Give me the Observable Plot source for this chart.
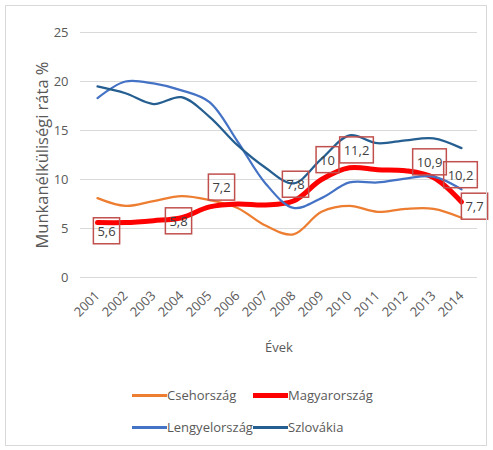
<!DOCTYPE html>
<html><head><meta charset="utf-8">
<script src="https://cdn.jsdelivr.net/npm/d3@7"></script>
<script src="https://cdn.jsdelivr.net/npm/@observablehq/plot@0.6"></script>
<style>
body{margin:0;background:#fff;font-family:"Open Sans",sans-serif;}
#wrap{position:relative;width:493px;height:450px;overflow:hidden;background:#fff}
#frame{position:absolute;left:5px;top:5px;width:482px;height:441px;border:1px solid #d9d9d9;box-sizing:border-box;pointer-events:none}
#legend{position:absolute;left:132px;top:383px;display:grid;grid-template-columns:121px auto;row-gap:8px;font-size:13px;color:#595959}
.item{display:flex;align-items:center;height:24px;white-space:nowrap}
.sw{width:35px;height:3px}
</style></head><body><div id="wrap"><div id="chart"></div><div id="legend"></div><div id="frame"></div></div>
<script>
const years = [2001,2002,2003,2004,2005,2006,2007,2008,2009,2010,2011,2012,2013,2014];
const series = ["Csehország","Magyarország","Lengyelország","Szlovákia"];
const cseh    = [8.1,7.3,7.8,8.3,7.9,7.1,5.3,4.4,6.7,7.3,6.7,7.0,7.0,6.1];
const magyar  = [5.6,5.6,5.8,6.1,7.2,7.5,7.4,7.8,10.0,11.2,11.0,10.9,10.2,7.7];
const lengyel = [18.3,20.0,19.8,19.1,17.9,13.9,9.6,7.1,8.1,9.7,9.7,10.1,10.3,9.0];
const szlovak = [19.5,18.8,17.7,18.4,16.4,13.5,11.2,9.6,12.1,14.5,13.7,14.0,14.2,13.2];
const yTicks = [0,5,10,15,20,25];
const labelYears = [2001,2003,2005,2008,2009,2010,2012,2013,2014];
const yLabel = "Munkanélküliségi ráta %";
const xLabel = "Évek";

const values = [cseh, magyar, lengyel, szlovak];
const colors = ["#ED7D31","#FF0000","#4472C4","#255E91"];
const widths = [2.25, 5, 2.25, 2.25];
const rows = series.map((s, k) => years.map((y, i) => ({country: s, year: y, value: values[k][i]})));

// label offsets (px) relative to the data point
const offs = {2001:[9,9],2003:[25,1],2005:[12,-19],2008:[2,-16],2009:[6,-19],2010:[7,-17],2012:[24,-8],2013:[27,-2],2014:[13,5]};
const fmt = v => String(v).replace(".", ",");
const huRows = rows[1];
const LBL = "#404041";

const marks = [
  Plot.gridY(yTicks, {stroke:"#d9d9d9", strokeOpacity:1}),
  Plot.axisY({ticks: yTicks, tickSize:0, tickPadding:12, label:null}),
  Plot.axisX({tickSize:0, tickPadding:16, tickRotate:-45, tickFormat: d => String(d), label:null}),
  ...rows.map((r, k) => Plot.line(r, {x:"year", y:"value", stroke: colors[k], strokeWidth: widths[k], curve:"catmull-rom", strokeLinejoin:"round", strokeLinecap:"round"})),
  ...labelYears.map(y => {
    const d = huRows.find(r => r.year === y);
    return Plot.text([d], {x:"year", y:"value", text: r => fmt(r.value), dx: offs[y][0], dy: offs[y][1], fill: LBL, fontSize:13});
  }),
  Plot.text([yLabel], {text: d => d, frameAnchor:"left", textAnchor:"middle", dx:-38, rotate:-90, fill:"#595959", fontSize:16.5}),
  Plot.text([xLabel], {text: d => d, frameAnchor:"bottom", dy:74, fill:"#595959", fontSize:13})
];

const chart = Plot.plot({
  width:493, height:365, marginLeft:80, marginRight:16, marginTop:32, marginBottom:88,
  style:{fontFamily:"Open Sans", fontSize:"13px", color:"#595959", background:"transparent", overflow:"visible"},
  x:{type:"point", domain: years, padding:0.5},
  y:{domain:[0,25]},
  marks
});
document.getElementById("chart").appendChild(chart);

// boxes around Hungarian labels
const svgNS = "http://www.w3.org/2000/svg";
chart.querySelectorAll("text").forEach(t => {
  const g = t.parentNode;
  const fill = (g && g.getAttribute && g.getAttribute("fill")) || t.getAttribute("fill");
  if (!fill || fill.toLowerCase() !== LBL) return;
  const b = t.getBBox();
  const r = document.createElementNS(svgNS, "rect");
  r.setAttribute("x", b.x - 4); r.setAttribute("y", b.y - 4);
  r.setAttribute("width", b.width + 8); r.setAttribute("height", b.height + 8);
  r.setAttribute("fill", "none"); r.setAttribute("stroke", "#C0504D"); r.setAttribute("stroke-width", 1.5);
  const tr = t.getAttribute("transform"); if (tr) r.setAttribute("transform", tr);
  g.appendChild(r);
});

// legend
const leg = document.getElementById("legend");
series.forEach((s, k) => {
  const it = document.createElement("div"); it.className = "item";
  const sw = document.createElement("span"); sw.className = "sw";
  sw.style.background = colors[k]; sw.style.height = (k === 1 ? 5 : 3) + "px";
  const tx = document.createElement("span"); tx.textContent = s;
  it.appendChild(sw); it.appendChild(tx); leg.appendChild(it);
});
</script></body></html>
